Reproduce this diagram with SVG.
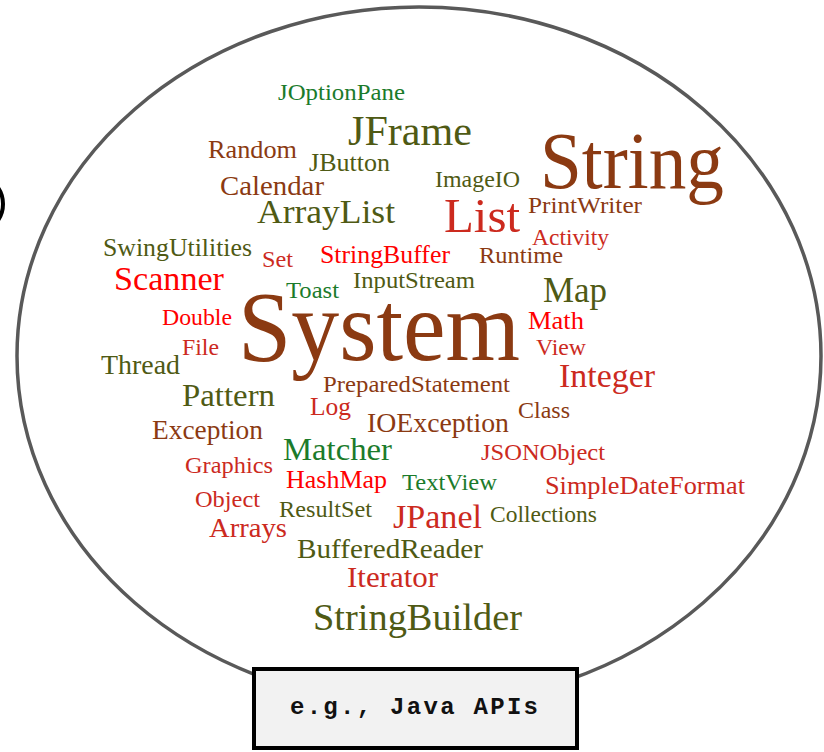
<svg xmlns="http://www.w3.org/2000/svg" width="824" height="752" viewBox="0 0 824 752">
<style>
text.w{font-family:"Liberation Serif","Times New Roman",serif}
.br{fill:#8b3a12}
.ol{fill:#4f5a14}
.gr{fill:#1b7b2b}
.rd{fill:#ff0000}
.dr{fill:#cc2a1e}
</style>
<rect width="824" height="752" fill="#ffffff"/>
<circle cx="-26" cy="204" r="29" fill="none" stroke="#000" stroke-width="4"/>
<ellipse id="cloud" cx="419" cy="356" rx="402" ry="349" fill="none" stroke="#595959" stroke-width="3.5"/>
<g id="words">
<text class="w gr" x="278" y="100" font-size="23" textLength="127" lengthAdjust="spacingAndGlyphs">JOptionPane</text>
<text class="w ol" x="348" y="145" font-size="42" textLength="124" lengthAdjust="spacingAndGlyphs">JFrame</text>
<text class="w br" x="208" y="158" font-size="25" textLength="89" lengthAdjust="spacingAndGlyphs">Random</text>
<text class="w ol" x="309" y="171" font-size="26" textLength="81" lengthAdjust="spacingAndGlyphs">JButton</text>
<text class="w br" x="220" y="195" font-size="28" textLength="104" lengthAdjust="spacingAndGlyphs">Calendar</text>
<text class="w ol" x="257" y="223" font-size="34" textLength="138" lengthAdjust="spacingAndGlyphs">ArrayList</text>
<text class="w ol" x="103" y="256" font-size="26" textLength="149" lengthAdjust="spacingAndGlyphs">SwingUtilities</text>
<text class="w br" x="540" y="188" font-size="80" textLength="184" lengthAdjust="spacingAndGlyphs">String</text>
<text class="w ol" x="435" y="187" font-size="23.5" textLength="85" lengthAdjust="spacingAndGlyphs">ImageIO</text>
<text class="w dr" x="444" y="232" font-size="48" textLength="76" lengthAdjust="spacingAndGlyphs">List</text>
<text class="w br" x="528" y="213" font-size="24" textLength="114" lengthAdjust="spacingAndGlyphs">PrintWriter</text>
<text class="w dr" x="532" y="245" font-size="24" textLength="77" lengthAdjust="spacingAndGlyphs">Activity</text>
<text class="w dr" x="262" y="267" font-size="23" textLength="31" lengthAdjust="spacingAndGlyphs">Set</text>
<text class="w rd" x="320" y="263" font-size="25" textLength="130" lengthAdjust="spacingAndGlyphs">StringBuffer</text>
<text class="w br" x="479" y="263" font-size="24" textLength="84" lengthAdjust="spacingAndGlyphs">Runtime</text>
<text class="w rd" x="114" y="290" font-size="33" textLength="110" lengthAdjust="spacingAndGlyphs">Scanner</text>
<text class="w gr" x="286" y="298" font-size="23" textLength="53" lengthAdjust="spacingAndGlyphs">Toast</text>
<text class="w ol" x="353" y="288" font-size="24" textLength="122" lengthAdjust="spacingAndGlyphs">InputStream</text>
<text class="w ol" x="543" y="302" font-size="35" textLength="64" lengthAdjust="spacingAndGlyphs">Map</text>
<text class="w rd" x="162" y="325" font-size="23" textLength="70" lengthAdjust="spacingAndGlyphs">Double</text>
<text class="w br" x="238" y="360" font-size="100" textLength="282" lengthAdjust="spacingAndGlyphs">System</text>
<text class="w rd" x="528" y="329" font-size="25" textLength="56" lengthAdjust="spacingAndGlyphs">Math</text>
<text class="w dr" x="182" y="355" font-size="23" textLength="37" lengthAdjust="spacingAndGlyphs">File</text>
<text class="w dr" x="536" y="355" font-size="23" textLength="50" lengthAdjust="spacingAndGlyphs">View</text>
<text class="w ol" x="101" y="374" font-size="27" textLength="79" lengthAdjust="spacingAndGlyphs">Thread</text>
<text class="w ol" x="182" y="406" font-size="31" textLength="93" lengthAdjust="spacingAndGlyphs">Pattern</text>
<text class="w br" x="323" y="392" font-size="23" textLength="187" lengthAdjust="spacingAndGlyphs">PreparedStatement</text>
<text class="w dr" x="559" y="387" font-size="33" textLength="96" lengthAdjust="spacingAndGlyphs">Integer</text>
<text class="w dr" x="310" y="415" font-size="25" textLength="41" lengthAdjust="spacingAndGlyphs">Log</text>
<text class="w br" x="518" y="418" font-size="23" textLength="52" lengthAdjust="spacingAndGlyphs">Class</text>
<text class="w br" x="367" y="432" font-size="28" textLength="142" lengthAdjust="spacingAndGlyphs">IOException</text>
<text class="w br" x="152" y="439" font-size="27" textLength="111" lengthAdjust="spacingAndGlyphs">Exception</text>
<text class="w gr" x="283" y="460" font-size="32" textLength="109" lengthAdjust="spacingAndGlyphs">Matcher</text>
<text class="w dr" x="481" y="460" font-size="23.5" textLength="124" lengthAdjust="spacingAndGlyphs">JSONObject</text>
<text class="w dr" x="185" y="473" font-size="23" textLength="88" lengthAdjust="spacingAndGlyphs">Graphics</text>
<text class="w rd" x="286" y="488" font-size="25" textLength="101" lengthAdjust="spacingAndGlyphs">HashMap</text>
<text class="w gr" x="402" y="490" font-size="23" textLength="95" lengthAdjust="spacingAndGlyphs">TextView</text>
<text class="w dr" x="545" y="494" font-size="25" textLength="200" lengthAdjust="spacingAndGlyphs">SimpleDateFormat</text>
<text class="w dr" x="195" y="507" font-size="23" textLength="65" lengthAdjust="spacingAndGlyphs">Object</text>
<text class="w ol" x="279" y="517" font-size="23" textLength="93" lengthAdjust="spacingAndGlyphs">ResultSet</text>
<text class="w dr" x="393" y="528" font-size="33" textLength="89" lengthAdjust="spacingAndGlyphs">JPanel</text>
<text class="w ol" x="490" y="522" font-size="22.5" textLength="107" lengthAdjust="spacingAndGlyphs">Collections</text>
<text class="w dr" x="209" y="537" font-size="27" textLength="78" lengthAdjust="spacingAndGlyphs">Arrays</text>
<text class="w ol" x="297" y="558" font-size="28" textLength="186" lengthAdjust="spacingAndGlyphs">BufferedReader</text>
<text class="w dr" x="347" y="587" font-size="30" textLength="91" lengthAdjust="spacingAndGlyphs">Iterator</text>
<text class="w ol" x="313" y="630" font-size="38" textLength="209" lengthAdjust="spacingAndGlyphs">StringBuilder</text>
</g>
<g id="label">
<rect x="254" y="669" width="323" height="79" fill="#f2f2f2" stroke="#000" stroke-width="4"/>
<text x="290" y="714" font-family="'Liberation Mono','Courier New',monospace" font-weight="bold" font-size="24" textLength="248" lengthAdjust="spacing" fill="#111">e.g., Java APIs</text>
</g>
</svg>
